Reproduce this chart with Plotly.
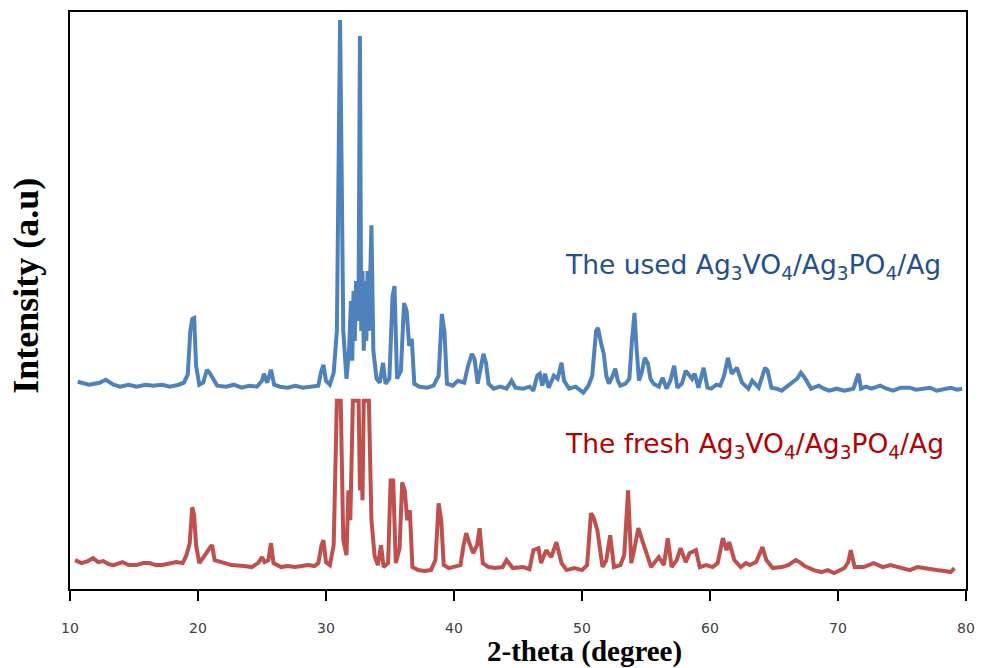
import plotly.graph_objects as go

# 2-theta (degree) and intensity (a.u.)
used_theta = [10.6, 11.5, 12.3, 12.8, 13.4, 13.9, 14.6, 15.2, 15.9, 16.5, 17.2, 17.8, 18.5, 18.9, 19.2, 19.4,
              19.55, 19.7, 19.85, 20.1, 20.4, 20.7, 20.95, 21.2, 21.5, 22.2, 22.8, 23.4, 24.0, 24.6, 25.0, 25.15,
              25.4, 25.7, 25.95, 26.4, 27.0, 27.6, 28.2, 28.8, 29.4, 29.6, 29.8, 30.0, 30.3, 30.6, 30.85, 31.1,
              31.35, 31.6, 31.8, 31.95, 32.05, 32.15, 32.25, 32.35, 32.45, 32.55, 32.65, 32.75, 32.85, 32.95,
              33.05, 33.15, 33.25, 33.35, 33.45, 33.55, 33.7, 33.95, 34.2,
              34.45, 34.65, 34.95, 35.2, 35.35, 35.55, 35.85, 36.1, 36.3, 36.5, 36.7, 36.9, 37.3, 37.9, 38.4, 38.8,
              39.05, 39.25, 39.45, 39.9, 40.3, 40.8, 41.1, 41.4, 41.6, 41.85, 42.05, 42.3, 42.5, 42.7, 43.1, 43.6,
              44.1, 44.5, 44.8, 45.4, 45.9, 46.2, 46.5, 46.7, 46.9, 47.1, 47.4, 47.8, 48.1, 48.4, 48.6, 49.0, 49.5,
              50.1, 50.5, 50.8, 51.1, 51.25, 51.5, 51.7, 51.9, 52.1, 52.4, 52.6, 52.8, 53.0, 53.4, 53.7, 53.9,
              54.1, 54.25, 54.45, 54.7, 54.9, 55.15, 55.35, 55.6, 56.0, 56.3, 56.6, 56.9, 57.2, 57.45, 57.8, 58.1,
              58.4, 58.6, 58.8, 59.1, 59.5, 59.8, 60.1, 60.5, 60.8, 61.1, 61.4, 61.7, 61.9, 62.1, 62.5, 63.0, 63.3,
              63.8, 64.1, 64.3, 64.5, 64.8, 65.2, 65.6, 66.0, 66.4, 66.8, 67.1, 67.4, 67.9, 68.5, 68.9, 69.3, 69.9,
              70.5, 71.2, 71.45, 71.6, 71.8, 72.2, 72.6, 73.3, 73.8, 74.3, 74.9, 75.6, 76.1, 76.7, 77.2, 77.7,
              78.3, 78.8, 79.3, 79.7]
used_int = [208, 205, 207, 210, 205, 203, 205, 203, 205, 204, 205, 203, 205, 207, 215, 259,
            271, 272, 224, 205, 207, 220, 216, 211, 204, 203, 205, 202, 204, 203, 209, 216,
            207, 220, 205, 203, 202, 204, 202, 203, 204, 217, 225, 209, 205, 217, 259, 571,
            259, 211, 239, 289, 229, 299, 249, 309, 269, 304, 555, 259, 319, 239,
            309, 249, 319, 259, 299, 365, 239, 211, 207,
            227, 206, 211, 294, 304, 211, 219, 287, 279, 244, 251, 206, 203, 202, 204, 214,
            276, 259, 206, 204, 209, 207, 224, 236, 231, 206, 219, 236, 227, 206, 201, 203,
            201, 209, 202, 201, 203, 199, 214, 216, 204, 216, 202, 214, 211, 227, 209, 201, 203,
            197, 204, 214, 259, 262, 246, 236, 214, 206, 214, 221, 209, 204, 206, 211, 249,
            277, 244, 209, 219, 232, 226, 211, 206, 203, 212, 201, 209, 224, 202, 206, 219,
            214, 211, 216, 202, 222, 202, 201, 205, 204, 214, 232, 216, 219, 222, 207, 201, 209,
            202, 214, 222, 219, 202, 201, 199, 203, 207, 211, 217, 212, 201, 204, 201, 199, 201,
            199, 201, 209, 216, 201, 203, 201, 204, 201, 199, 202, 202, 200, 201, 202, 199,
            201, 202, 200, 201]

fresh_theta = [10.4, 10.9, 11.4, 11.8, 12.2, 12.6, 13.0, 13.4, 14.1, 14.6, 15.2, 15.7, 16.2, 16.7, 17.2, 17.8,
               18.3, 18.8, 19.1, 19.35, 19.55, 19.7, 19.85, 20.1, 20.4, 20.65, 20.9, 21.1, 21.3, 21.7, 22.1,
               22.6, 23.1, 23.6, 24.2, 24.7, 25.0, 25.2, 25.5, 25.7, 25.9, 26.5, 27.0, 27.6, 28.1, 28.6, 29.1,
               29.4, 29.65, 29.8, 30.0, 30.3, 30.6, 30.85, 31.15, 31.35, 31.6, 31.75, 31.9, 32.0, 32.1, 32.55,
               32.65, 32.75, 32.85, 32.95, 33.35, 33.55, 33.8, 34.05, 34.3, 34.5, 34.85, 35.05, 35.25, 35.45,
               35.75, 35.95, 36.15, 36.35,
               36.55, 36.75, 37.2, 37.7, 38.2, 38.55, 38.8, 39.0, 39.2, 39.6, 40.0, 40.5, 40.75, 40.95, 41.2,
               41.5, 41.8, 42.0, 42.25, 42.7, 43.2, 43.8, 44.1, 44.6, 45.4, 45.9, 46.2, 46.6, 46.8, 47.2, 47.6,
               48.0, 48.4, 48.8, 49.4, 50.0, 50.4, 50.7, 50.9, 51.2, 51.6, 51.9, 52.2, 52.5, 53.0, 53.3, 53.6,
               53.85, 54.15, 54.4, 54.7, 55.0, 55.4, 56.0, 56.4, 56.7, 57.0, 57.4, 57.7, 58.1, 58.4, 58.9, 59.2,
               59.7, 60.2, 60.6, 61.0, 61.3, 61.5, 61.9, 62.4, 62.8, 63.1, 63.6, 64.1, 64.4, 64.9, 65.6, 66.1,
               66.7, 67.0, 67.4, 68.1, 68.7, 69.2, 69.7, 70.5, 70.8, 71.0, 71.3, 72.0, 72.8, 73.5, 74.1, 74.6,
               75.1, 75.6, 76.2, 76.7, 77.2, 77.7, 78.3, 78.8, 79.1]
fresh_int = [29, 26, 28, 31, 27, 28, 25, 24, 27, 24, 24, 26, 26, 24, 24, 26,
             27, 26, 34, 46, 82, 74, 44, 26, 31, 36, 41, 44, 29, 27, 26,
             24, 24, 23, 22, 26, 32, 27, 29, 46, 26, 22, 23, 22, 23, 24, 23,
             26, 44, 49, 27, 24, 44, 189, 189, 49, 34, 99, 69, 129, 189, 189,
             99, 139, 89, 189, 189, 69, 33, 24, 44, 22, 26, 109, 109, 26,
             41, 107, 99, 69,
             79, 22, 19, 18, 19, 29, 86, 69, 24, 21, 22, 24, 44, 56, 46,
             36, 44, 61, 26, 22, 21, 22, 29, 21, 22, 20, 39, 41, 26, 39, 32,
             47, 26, 19, 21, 19, 24, 76, 72, 59, 22, 29, 54, 22, 24, 34, 99,
             26, 44, 61, 49, 36, 22, 32, 24, 51, 22, 29, 41, 27, 36, 39, 22,
             24, 22, 26, 51, 39, 47, 29, 22, 26, 24, 27, 42, 29, 21, 22, 24,
             29, 27, 23, 19, 17, 19, 16, 21, 27, 39, 22, 22, 26, 22, 24, 22,
             21, 19, 22, 21, 19, 19, 18, 17, 21]

x_ticks = [10, 20, 30, 40, 50, 60, 70, 80]
used_label = "The used Ag<sub>3</sub>VO<sub>4</sub>/Ag<sub>3</sub>PO<sub>4</sub>/Ag"
fresh_label = "The fresh Ag<sub>3</sub>VO<sub>4</sub>/Ag<sub>3</sub>PO<sub>4</sub>/Ag"

fig = go.Figure()
fig.add_trace(go.Scatter(x=used_theta, y=used_int, mode="lines",
                         line=dict(color="#4F81BD", width=4), name="used"))
fig.add_trace(go.Scatter(x=fresh_theta, y=fresh_int, mode="lines",
                         line=dict(color="#C0504D", width=4), name="fresh"))

fig.update_layout(
    width=985, height=668,
    margin=dict(l=70, r=12, t=10, b=79),
    paper_bgcolor="white", plot_bgcolor="white",
    showlegend=False,
    xaxis=dict(range=[10, 80], tickvals=x_ticks, ticks="outside", ticklen=10, tickwidth=2,
               tickcolor="black", showline=True, linecolor="black", linewidth=2, mirror=True,
               showgrid=False, zeroline=False, ticklabelstandoff=15,
               tickfont=dict(family="DejaVu Sans", size=14, color="#404040")),
    yaxis=dict(range=[0, 579], showticklabels=False, ticks="", showline=True, linecolor="black",
               linewidth=2, mirror=True, showgrid=False, zeroline=False),
    annotations=[
        dict(text=used_label, xref="paper", yref="paper", x=0.5504, y=0.5596,
             xanchor="left", yanchor="middle", showarrow=False,
             font=dict(family="DejaVu Sans", size=26.5, color="#24508F")),
        dict(text=fresh_label, xref="paper", yref="paper", x=0.5504, y=0.2487,
             xanchor="left", yanchor="middle", showarrow=False,
             font=dict(family="DejaVu Sans", size=26.5, color="#B40000")),
        dict(text="<b>2-theta (degree)</b>", xref="paper", yref="paper", x=0.5738, y=-0.1088,
             xanchor="center", yanchor="middle", showarrow=False,
             font=dict(family="Liberation Serif", size=29, color="black")),
        dict(text="<b>Intensity (a.u)</b>", xref="paper", yref="paper", x=-0.0495, y=0.525,
             xanchor="center", yanchor="middle", showarrow=False, textangle=-90,
             font=dict(family="Liberation Serif", size=36, color="black")),
    ],
)

fig.write_html(
    "out.html",
    config={"displayModeBar": False, "responsive": False},
    post_script=("document.documentElement.style.margin='0';document.body.style.margin='0';"
                 "document.documentElement.style.overflow='hidden';document.body.style.overflow='hidden';"),
)
